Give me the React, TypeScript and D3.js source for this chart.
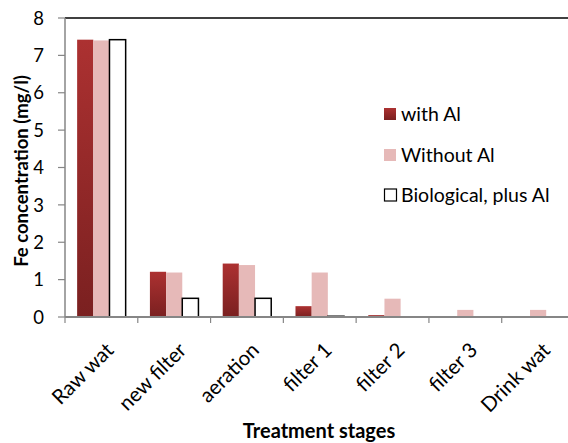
import * as d3 from "d3";

// Fe concentration through the treatment train, three scenarios.
const stages = ["Raw wat", "new filter", "aeration", "filter 1", "filter 2", "filter 3", "Drink wat"];
const seriesNames = ["with Al", "Without Al", "Biological, plus Al"];
const withAl = [7.42, 1.21, 1.43, 0.29, 0.05, 0.02, 0.02];
const withoutAl = [7.4, 1.19, 1.39, 1.19, 0.49, 0.19, 0.19];
const biological = [7.42, 0.5, 0.5, 0.02, 0, 0, 0];
const yTicks = [0, 1, 2, 3, 4, 5, 6, 7, 8];

const W = 568;
const H = 443;
const FONT = "Lato, 'Open Sans', sans-serif";
const AXIS = "#868686";

export default function App() {
  const m = { left: 65, top: 18, bottom: 317 };
  const plotRight = 574.5; // chart runs a bit past the picture edge

  const x0 = d3.scaleBand<string>().domain(stages).range([m.left, plotRight]);
  const step = x0.step();
  const x1 = d3
    .scaleBand<string>()
    .domain(seriesNames)
    .range([step / 6, step - step / 6]);
  const y = d3.scaleLinear().domain([0, 8]).range([m.bottom, m.top]);

  const values = [withAl, withoutAl, biological];
  const fills = ["url(#darkRed)", "#E6B9B8", "#fff"];
  const strokes = ["none", "none", "#000"];

  const legendY = [114, 155, 195];

  return (
    <div style={{ position: "absolute", left: 0, top: 0 }}>
      <svg width={W} height={H} style={{ display: "block", background: "#fff" }} fontFamily={FONT}>
        <defs>
          <linearGradient id="darkRed" x1="0" y1="0" x2="0" y2="1">
            <stop offset="0" stopColor="#AC3131" />
            <stop offset="1" stopColor="#7A2020" />
          </linearGradient>
        </defs>

        {/* top frame line */}
        <line x1={m.left} x2={W} y1={m.top} y2={m.top} stroke="#000" strokeWidth={1.5} />

        {/* bars */}
        {values.map((vals, si) => (
          <g key={seriesNames[si]}>
            {vals.map((v, i) => {
              const bx = x0(stages[i])! + x1(seriesNames[si])!;
              const bw = x1.bandwidth();
              const top = y(v);
              return (
                <rect
                  key={stages[i]}
                  x={bx}
                  y={top}
                  width={bw}
                  height={Math.max(0, y(0) - top)}
                  fill={fills[si]}
                  stroke={strokes[si]}
                  strokeWidth={1.5}
                />
              );
            })}
          </g>
        ))}

        {/* y axis */}
        <line x1={m.left} x2={m.left} y1={m.top} y2={m.bottom} stroke={AXIS} strokeWidth={1.5} />
        {yTicks.map((t) => (
          <g key={t}>
            <line x1={m.left - 7} x2={m.left} y1={y(t)} y2={y(t)} stroke={AXIS} strokeWidth={1.2} />
            <text x={44} y={y(t)} dy="0.36em" textAnchor="end" fontSize={18.5} fill="#000">
              {t}
            </text>
          </g>
        ))}

        {/* x axis */}
        <line x1={m.left} x2={W} y1={m.bottom} y2={m.bottom} stroke={AXIS} strokeWidth={2} />
        {stages.map((s) => (
          <line
            key={s}
            x1={x0(s)!}
            x2={x0(s)!}
            y1={m.bottom}
            y2={m.bottom + 6}
            stroke={AXIS}
            strokeWidth={1.2}
          />
        ))}
        {stages.map((s) => {
          const cx = x0(s)! + step / 2;
          return (
            <text
              key={s}
              transform={`translate(${cx + 3},341) rotate(-45)`}
              textAnchor="end"
              dy="0.72em"
              fontSize={20.5}
              fill="#000"
            >
              {s}
            </text>
          );
        })}

        {/* axis titles */}
        <text
          transform="translate(28,171) rotate(-90)"
          textAnchor="middle"
          fontSize={18.5}
          fontWeight="bold"
          fill="#000"
        >
          Fe concentration (mg/l)
        </text>
        <text x={319} y={438} textAnchor="middle" fontSize={20} fontWeight="bold" fill="#000">
          Treatment stages
        </text>

        {/* legend */}
        {seriesNames.map((n, i) => (
          <g key={n}>
            <rect
              x={i === 2 ? 384.5 : 384}
              y={legendY[i] - 6}
              width={12}
              height={12}
              fill={fills[i]}
              stroke={strokes[i]}
              strokeWidth={1.2}
            />
            <text x={401} y={legendY[i]} dy="0.36em" fontSize={19.5} fill="#000">
              {n}
            </text>
          </g>
        ))}
      </svg>
    </div>
  );
}
